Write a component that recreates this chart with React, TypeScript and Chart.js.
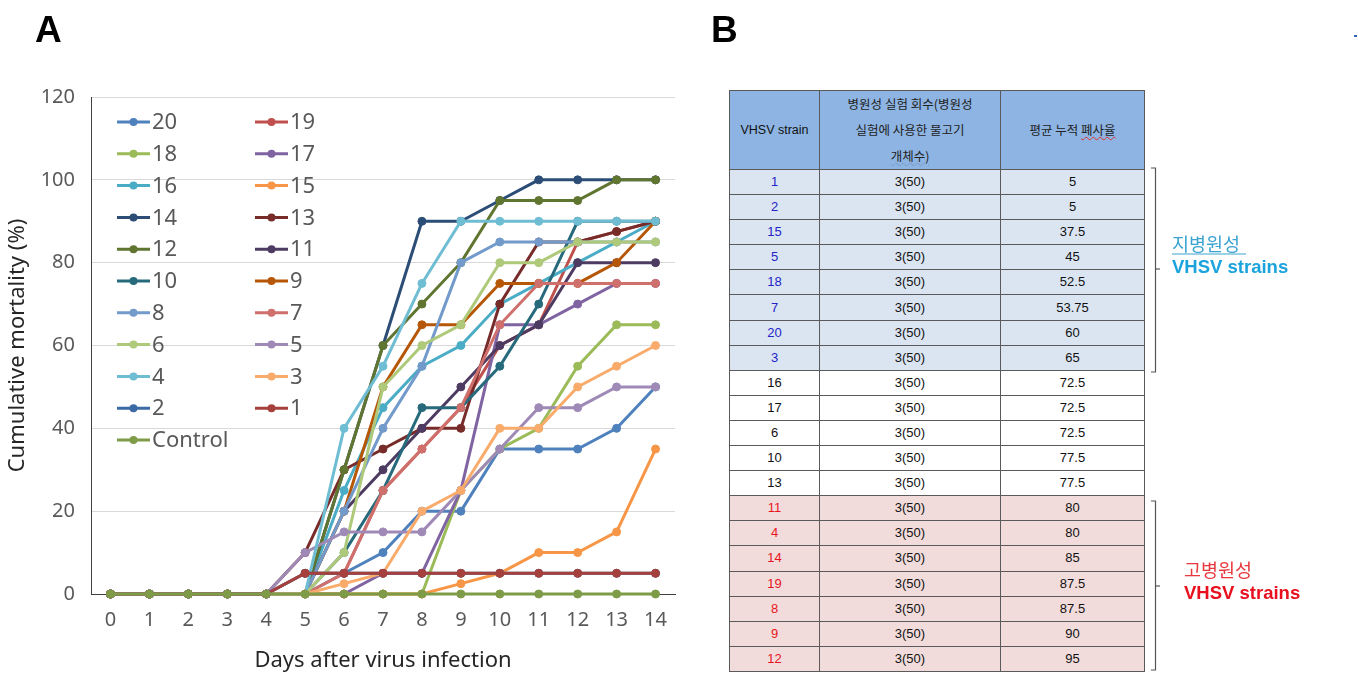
import React, { useEffect, useRef } from "react";
import { Chart, registerables } from "chart.js";

Chart.register(...registerables);

// ---------- Panel A data ----------
const days = ["0", "1", "2", "3", "4", "5", "6", "7", "8", "9", "10", "11", "12", "13", "14"];
const s20 = [0, 0, 0, 0, 0, 0, 5, 10, 20, 20, 35, 35, 35, 40, 50];
const s19 = [0, 0, 0, 0, 0, 5, 5, 25, 35, 45, 60, 65, 85, 87.5, 90];
const s18 = [0, 0, 0, 0, 0, 0, 0, 0, 0, 25, 35, 40, 55, 65, 65];
const s17 = [0, 0, 0, 0, 0, 0, 0, 5, 5, 25, 65, 65, 70, 75, 75];
const s16 = [0, 0, 0, 0, 0, 0, 25, 45, 55, 60, 70, 75, 80, 85, 90];
const s15 = [0, 0, 0, 0, 0, 0, 0, 0, 0, 2.5, 5, 10, 10, 15, 35];
const s14 = [0, 0, 0, 0, 0, 0, 30, 60, 90, 90, 95, 100, 100, 100, 100];
const s13 = [0, 0, 0, 0, 0, 10, 30, 35, 40, 40, 70, 85, 85, 87.5, 90];
const s12 = [0, 0, 0, 0, 0, 0, 30, 60, 70, 80, 95, 95, 95, 100, 100];
const s11 = [0, 0, 0, 0, 0, 0, 20, 30, 40, 50, 60, 65, 80, 80, 80];
const s10 = [0, 0, 0, 0, 0, 0, 10, 25, 45, 45, 55, 70, 90, 90, 90];
const s9 = [0, 0, 0, 0, 0, 0, 20, 50, 65, 65, 75, 75, 75, 80, 90];
const s8 = [0, 0, 0, 0, 0, 0, 20, 40, 55, 80, 85, 85, 85, 85, 85];
const s7 = [0, 0, 0, 0, 0, 0, 5, 25, 35, 45, 65, 75, 75, 75, 75];
const s6 = [0, 0, 0, 0, 0, 0, 10, 50, 60, 65, 80, 80, 85, 85, 85];
const s5 = [0, 0, 0, 0, 0, 10, 15, 15, 15, 25, 35, 45, 45, 50, 50];
const s4 = [0, 0, 0, 0, 0, 0, 40, 55, 75, 90, 90, 90, 90, 90, 90];
const s3 = [0, 0, 0, 0, 0, 0, 2.5, 5, 20, 25, 40, 40, 50, 55, 60];
const s2 = [0, 0, 0, 0, 0, 5, 5, 5, 5, 5, 5, 5, 5, 5, 5];
const s1 = [0, 0, 0, 0, 0, 5, 5, 5, 5, 5, 5, 5, 5, 5, 5];
const control = [0, 0, 0, 0, 0, 0, 0, 0, 0, 0, 0, 0, 0, 0, 0];

const seriesNames = ["20", "19", "18", "17", "16", "15", "14", "13", "12", "11", "10", "9", "8", "7", "6", "5", "4", "3", "2", "1", "Control"];
const seriesData = [s20, s19, s18, s17, s16, s15, s14, s13, s12, s11, s10, s9, s8, s7, s6, s5, s4, s3, s2, s1, control];
const seriesColors = [
  "#4F81BD", "#C0504D", "#9BBB59", "#8064A2", "#4BACC6", "#F79646",
  "#2C4D75", "#772C2A", "#5F7530", "#4D3B62", "#276A7C", "#B65708",
  "#729ACA", "#D0706D", "#AFC97A", "#9F8AB7", "#6FBDD3", "#F9AB6B",
  "#3C6AA5", "#A5403D", "#7E9B48",
];

const yTicks = [0, 20, 40, 60, 80, 100, 120];

// ---------- Panel B data ----------
const strainOrder = ["1", "2", "15", "5", "18", "7", "20", "3", "16", "17", "6", "10", "13", "11", "4", "14", "19", "8", "9", "12"];
const trialLabels = ["3(50)", "3(50)", "3(50)", "3(50)", "3(50)", "3(50)", "3(50)", "3(50)", "3(50)", "3(50)", "3(50)", "3(50)", "3(50)", "3(50)", "3(50)", "3(50)", "3(50)", "3(50)", "3(50)", "3(50)"];
const meanMortality = ["5", "5", "37.5", "45", "52.5", "53.75", "60", "65", "72.5", "72.5", "72.5", "77.5", "77.5", "80", "80", "85", "87.5", "87.5", "90", "95"];
const rowGroup = ["low", "low", "low", "low", "low", "low", "low", "low", "mid", "mid", "mid", "mid", "mid", "high", "high", "high", "high", "high", "high", "high"];

const FONT = "'Noto Sans', 'Noto Sans CJK KR', sans-serif";

const gridLegend = {
  id: "gridLegend",
  afterDatasetsDraw(chart: any) {
    const ctx = chart.ctx;
    const ca = chart.chartArea;
    ctx.save();
    seriesNames.forEach((name, i) => {
      const col = i % 2;
      const row = Math.floor(i / 2);
      const x0 = ca.left + 26 + col * 138;
      const y = ca.top + 25 + row * 31.8;
      ctx.strokeStyle = seriesColors[i];
      ctx.lineWidth = 3;
      ctx.beginPath();
      ctx.moveTo(x0, y);
      ctx.lineTo(x0 + 33, y);
      ctx.stroke();
      ctx.fillStyle = seriesColors[i];
      ctx.beginPath();
      ctx.arc(x0 + 16.5, y, 4, 0, Math.PI * 2);
      ctx.fill();
      ctx.fillStyle = "#595959";
      ctx.font = `22px ${FONT}`;
      ctx.textBaseline = "middle";
      ctx.textAlign = "left";
      ctx.fillText(name, x0 + 35, y + 1);
    });
    ctx.restore();
  },
};

const cellBorder = "1px solid #5a5a5a";

export default function App() {
  const ref = useRef<HTMLCanvasElement>(null);

  useEffect(() => {
    if (!ref.current) return;
    const chart = new Chart(ref.current, {
      type: "line",
      data: {
        labels: days,
        datasets: seriesData.map((d, i) => ({
          label: seriesNames[i],
          data: d,
          borderColor: seriesColors[i],
          backgroundColor: seriesColors[i],
          pointBackgroundColor: seriesColors[i],
          pointBorderColor: seriesColors[i],
          borderWidth: 3,
          pointRadius: 4,
          pointBorderWidth: 1,
          tension: 0,
          fill: false,
          clip: false as any,
          order: seriesData.length - 1 - i,
        })),
      },
      options: {
        animation: false,
        responsive: false,
        maintainAspectRatio: false,
        layout: { padding: { top: 97, right: 25, left: 0, bottom: 0 } },
        plugins: { legend: { display: false }, tooltip: { enabled: false } },
        scales: {
          x: {
            offset: true,
            grid: { display: false, drawTicks: false },
            border: { display: true, color: "#404040", width: 1 },
            ticks: { color: "#595959", font: { size: 20, family: FONT }, padding: 14, maxRotation: 0 },
            title: {
              display: true,
              text: "Days after virus infection",
              color: "#262626",
              font: { size: 22, family: FONT },
              padding: { top: 4, bottom: 5 },
            },
            afterFit: (s: any) => {
              s.height = 85;
            },
          },
          y: {
            min: 0,
            max: 120,
            afterBuildTicks: (s: any) => {
              s.ticks = yTicks.map((v) => ({ value: v }));
            },
            ticks: { color: "#595959", font: { size: 20, family: FONT }, padding: 16 },
            grid: { color: "#D9D9D9", drawTicks: false, lineWidth: 1 },
            border: { display: true, color: "#404040", width: 1 },
            title: {
              display: true,
              text: "Cumulative mortality (%)",
              color: "#262626",
              font: { size: 22, family: FONT },
              padding: { top: 5, bottom: 4 },
            },
            afterFit: (s: any) => {
              s.width = 91;
            },
          },
        },
      },
      plugins: [gridLegend],
    } as any);
    return () => chart.destroy();
  }, []);

  const groupBg: Record<string, string> = { low: "#DBE5F1", mid: "#FFFFFF", high: "#F2DCDB" };
  const groupFg: Record<string, string> = { low: "#2323C8", mid: "#111111", high: "#E8141E" };

  const tdBase: React.CSSProperties = {
    border: cellBorder,
    padding: 0,
    textAlign: "center",
    verticalAlign: "middle",
    fontSize: 13,
    fontFamily: "'Liberation Sans', Arial, sans-serif",
    color: "#111",
    lineHeight: "16px",
  };
  const korean: React.CSSProperties = {
    fontFamily: "'Noto Sans CJK KR', 'Noto Sans', sans-serif",
    fontSize: 12.5,
  };
  const squiggle: React.CSSProperties = {
    textDecorationLine: "underline",
    textDecorationStyle: "wavy",
    textDecorationColor: "#E03030",
    textDecorationThickness: "1px",
  };

  return (
    <div style={{ position: "absolute", left: 0, top: 0, width: 1358, height: 679, background: "#fff", overflow: "hidden" }}>
      <canvas ref={ref} width={700} height={679} style={{ position: "absolute", left: 0, top: 0, width: 700, height: 679 }} />

      <table
        style={{
          position: "absolute",
          left: 729,
          top: 90,
          width: 415,
          borderCollapse: "collapse",
          tableLayout: "fixed",
        }}
      >
        <colgroup>
          <col style={{ width: 90 }} />
          <col style={{ width: 181 }} />
          <col style={{ width: 144 }} />
        </colgroup>
        <tbody>
          <tr style={{ height: 75, background: "#8DB4E2" }}>
            <td style={{ ...tdBase, fontSize: 12.5 }}>VHSV strain</td>
            <td style={{ ...tdBase, ...korean, lineHeight: "26px", color: "#222" }}>
              병원성 실험 회수(병원성
              <br />
              실험에 사용한 물고기
              <br />
              <span style={{ ...squiggle, textDecorationColor: "#7a9cc8" }}>개체수)</span>
            </td>
            <td style={{ ...tdBase, ...korean, color: "#222" }}>
              평균 누적 <span style={squiggle}>폐사율</span>
            </td>
          </tr>
          {strainOrder.map((s, i) => (
            <tr key={i} style={{ height: 25.1, background: groupBg[rowGroup[i]] }}>
              <td style={{ ...tdBase, color: groupFg[rowGroup[i]] }}>{s}</td>
              <td style={tdBase}>{trialLabels[i]}</td>
              <td style={tdBase}>{meanMortality[i]}</td>
            </tr>
          ))}
        </tbody>
      </table>

      <svg width={1358} height={679} style={{ position: "absolute", left: 0, top: 0, pointerEvents: "none" }}>
        <text x={35} y={42} fontFamily="'Liberation Sans', Arial, sans-serif" fontWeight="bold" fontSize={37} fill="#000">A</text>
        <text x={711} y={42} fontFamily="'Liberation Sans', Arial, sans-serif" fontWeight="bold" fontSize={37} fill="#000">B</text>

        <g stroke="#555" strokeWidth={1.2} fill="none">
          <path d="M1151 168 H1155.5 V372 H1151" />
          <path d="M1155.5 269 H1160" />
          <path d="M1151 501 H1155.5 V670 H1151" />
          <path d="M1155.5 586 H1160" />
        </g>

        <text x={1172} y={251} fontFamily="'Noto Sans CJK KR', sans-serif" fontSize={18.5} fill="#3BA3D0">지병원성</text>
        <line x1={1172} y1={254} x2={1246} y2={254} stroke="#3BA3D0" strokeWidth={1} />
        <text x={1172} y={273} fontFamily="'Liberation Sans', Arial, sans-serif" fontWeight="bold" fontSize={18.5} fill="#1AA3DC">VHSV strains</text>

        <text x={1184} y={577} fontFamily="'Noto Sans CJK KR', sans-serif" fontSize={18.5} fill="#E8383D">고병원성</text>
        <text x={1184} y={599} fontFamily="'Liberation Sans', Arial, sans-serif" fontWeight="bold" fontSize={18.5} fill="#E8101E">VHSV strains</text>

        <rect x={1354} y={35} width={3} height={2} fill="#3060c0" />
      </svg>
    </div>
  );
}
